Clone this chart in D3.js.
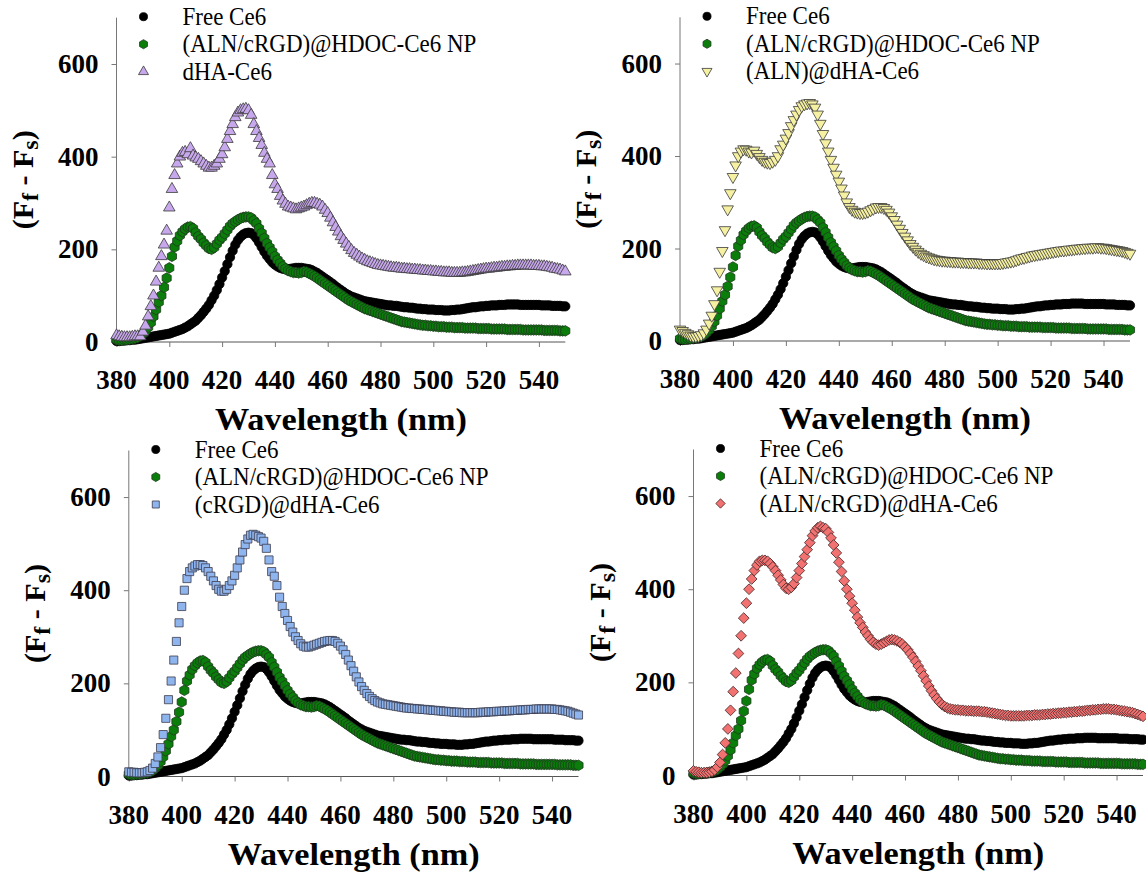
<!DOCTYPE html>
<html lang="en">
<head>
  <meta charset="UTF-8">
  <title>Fluorescence (Ff - Fs) vs wavelength</title>
  <script src="https://d3js.org/d3.v7.min.js"></script>
  <style>
    html, body { margin: 0; padding: 0; background: #fff; }
    svg { display: block; }
  </style>
</head>
<body>
  <div id="chart"></div>
  <script>
    const serif = "'Liberation Serif', 'Times New Roman', 'DejaVu Serif', serif";

    // wavelength grid, 1 nm steps
    const wavelength = d3.range(380, 551, 1);

    // Free Ce6 (black circles) - 380..550
    const freeCe6 = [
      2, 2, 3, 3, 4, 4, 5, 5, 6, 7,
      8, 9, 10, 11, 12, 13, 14, 15, 16, 17,
      18, 20, 22, 24, 26, 28, 31, 34, 38, 42,
      46, 52, 58, 65, 72, 80, 90, 100, 112, 125,
      139, 153, 168, 183, 197, 210, 220, 227, 232, 235,
      236, 235, 231, 224, 215, 205, 195, 186, 179, 172,
      167, 163, 160, 158, 157, 157, 158, 159, 160, 160,
      160, 159, 158, 157, 155, 152, 149, 145, 141, 137,
      133, 129, 125, 120, 116, 112, 108, 104, 101, 98,
      96, 94, 92, 90, 88, 87, 86, 85, 84, 83,
      82, 81, 80, 79, 79, 78, 78, 77, 76, 75,
      75, 74, 74, 73, 72, 72, 71, 71, 70, 70,
      70, 69, 69, 69, 68, 68, 68, 69, 69, 70,
      70, 71, 72, 73, 74, 75, 75, 76, 77, 77,
      78, 78, 79, 79, 79, 80, 80, 80, 81, 81,
      81, 81, 81, 80, 80, 80, 80, 80, 80, 80,
      80, 79, 79, 79, 79, 78, 78, 78, 78, 77,
      77
    ];

    // (ALN/cRGD)@HDOC-Ce6 NP (green hexagons)
    const npCe6 = [
      5, 4, 4, 5, 5, 6, 7, 8, 10, 13,
      18, 24, 32, 42, 55, 70, 86, 100, 118, 138,
      160, 185, 205, 218, 230, 238, 244, 248, 249, 245,
      236, 228, 222, 214, 208, 202, 200, 204, 212, 220,
      226, 234, 242, 250, 256, 260, 264, 267, 269, 270,
      270, 268, 262, 256, 245, 235, 224, 213, 204, 195,
      185, 177, 170, 163, 158, 154, 152, 150, 150, 149,
      150, 152, 151, 148, 145, 142, 138, 134, 130, 126,
      122, 118, 114, 110, 106, 102, 98, 94, 90, 87,
      84, 81, 78, 75, 72, 70, 68, 66, 64, 62,
      60, 58, 56, 54, 52, 50, 48, 46, 44, 43,
      42, 41, 40, 39, 38, 37, 36, 36, 35, 35,
      34, 34, 33, 33, 33, 32, 32, 32, 31, 31,
      31, 31, 30, 30, 30, 30, 30, 29, 29, 29,
      29, 29, 28, 28, 28, 28, 28, 28, 27, 27,
      27, 27, 27, 27, 26, 26, 26, 26, 26, 26,
      26, 26, 25, 25, 25, 25, 25, 25, 24, 24,
      24
    ];

    // dHA-Ce6 (lilac triangles)
    const dhaCe6 = [
      14, 12, 11, 10, 10, 10, 11, 12, 12, 12,
      22, 35, 55, 77, 100, 130, 160, 185, 210, 240,
      290, 330, 360, 385, 400, 408, 410, 405, 418, 402,
      398, 395, 390, 385, 380, 376, 376, 380, 385, 395,
      405, 420, 438, 455, 470, 485, 495, 500, 502, 503,
      500, 490, 470, 455, 440, 425, 408, 395, 385, 360,
      340, 330, 315, 305, 298, 292, 290, 288, 286, 288,
      290, 292, 295, 298, 300, 300, 298, 296, 292, 285,
      278, 268, 258, 248, 238, 228, 220, 212, 205, 198,
      192, 188, 184, 180, 177, 174, 172, 170, 168, 166,
      165, 164, 163, 162, 161, 160, 160, 159, 158, 158,
      157, 157, 156, 156, 155, 155, 154, 154, 153, 153,
      152, 152, 151, 151, 150, 150, 150, 149, 149, 149,
      149, 150, 150, 151, 152, 153, 154, 155, 156, 157,
      158, 158, 159, 160, 160, 161, 162, 162, 163, 163,
      164, 164, 165, 165, 165, 165, 165, 165, 164, 164,
      164, 163, 163, 162, 161, 160, 158, 157, 156, 154,
      152
    ];

    // (ALN)@dHA-Ce6 (yellow inverted triangles)
    const alnDhaCe6 = [
      25, 22, 18, 15, 12, 10, 10, 11, 13, 17,
      25, 38, 55, 80, 110, 150, 195, 240, 285, 320,
      355, 380, 400, 410, 415, 414, 410, 408, 412, 405,
      398, 392, 388, 386, 385, 388, 392, 400, 415, 425,
      438, 450, 465, 478, 490, 500, 508, 512, 514, 515,
      512, 505, 490, 470, 448, 428, 410, 392, 375, 360,
      345, 330, 315, 300, 290, 284, 280, 278, 277, 277,
      278, 280, 283, 286, 289, 290, 290, 288, 284, 278,
      270, 262, 252, 243, 234, 226, 218, 210, 204, 198,
      193, 189, 186, 183, 181, 179, 177, 176, 175, 174,
      174, 173, 173, 172, 172, 172, 171, 171, 171, 170,
      170, 170, 170, 169, 169, 169, 168, 168, 168, 168,
      168, 168, 169, 170, 171, 172, 173, 175, 177, 179,
      180, 182, 183, 185, 186, 187, 188, 189, 190, 191,
      192, 193, 194, 195, 196, 196, 197, 198, 198, 199,
      200, 200, 201, 201, 202, 202, 202, 203, 203, 202,
      202, 201, 200, 199, 198, 197, 196, 195, 193, 191,
      189
    ];

    // (cRGD)@dHA-Ce6 (blue squares)
    const rgdDhaCe6 = [
      10, 9, 9, 8, 8, 8, 9, 10, 13, 18,
      28, 42, 62, 90, 125, 165, 205, 250, 290, 330,
      365, 400, 425, 440, 448, 452, 455, 455, 453, 448,
      440, 430, 420, 410, 402, 398, 398, 402, 410, 420,
      432, 448, 465, 482, 498, 510, 518, 520, 518, 515,
      512, 505, 490, 465, 440, 430, 410, 385, 365, 350,
      335, 322, 310, 300, 292, 285, 280, 278, 278, 280,
      282, 284, 286, 288, 290, 291, 292, 292, 290, 286,
      280, 272, 262, 250, 238, 226, 214, 203, 193, 185,
      178, 172, 167, 163, 160, 158, 156, 155, 154, 153,
      152, 151, 150, 149, 148, 147, 147, 146, 146, 145,
      145, 144, 144, 143, 143, 142, 142, 141, 141, 140,
      140, 139, 139, 138, 138, 138, 137, 137, 137, 137,
      137, 137, 137, 138, 138, 138, 139, 139, 139, 140,
      140, 140, 141, 141, 141, 142, 142, 142, 143, 143,
      143, 144, 144, 144, 145, 145, 145, 145, 145, 145,
      145, 144, 144, 143, 142, 141, 140, 138, 136, 134,
      132
    ];

    // (ALN/cRGD)@dHA-Ce6 (red diamonds)
    const alnRgdDhaCe6 = [
      10, 8, 7, 6, 6, 6, 7, 9, 12, 18,
      28, 45, 70, 100, 140, 180, 220, 262, 300, 338,
      370, 400, 422, 440, 452, 460, 462, 462, 460, 455,
      448, 440, 430, 420, 410, 402, 400, 404, 412, 425,
      440, 455, 470, 485, 500, 515, 525, 532, 535, 532,
      530, 522, 510, 495, 478, 458, 438, 418, 400, 385,
      370, 355, 340, 328, 318, 308, 300, 292, 286, 282,
      280, 282, 285, 288, 291, 292, 291, 289, 286, 282,
      276, 270, 262, 254, 245, 235, 225, 214, 203, 192,
      182, 173, 165, 158, 152, 148, 145, 143, 142, 141,
      141, 140, 140, 139, 139, 139, 138, 138, 138, 137,
      137, 136, 135, 134, 133, 132, 131, 130, 129, 129,
      128, 128, 128, 128, 128, 128, 129, 129, 129, 130,
      130, 130, 131, 131, 132, 132, 133, 133, 134, 134,
      135, 135, 136, 136, 137, 137, 138, 138, 139, 140,
      140, 141, 141, 142, 142, 143, 143, 143, 142, 142,
      141, 140, 139, 138, 137, 136, 135, 133, 131, 129,
      127
    ];

    const xTicks = [380, 400, 420, 440, 460, 480, 500, 520, 540];
    const yTicks = [0, 200, 400, 600];
    const freeName = "Free Ce6";
    const npName = "(ALN/cRGD)@HDOC-Ce6 NP";

    const W = 1146, H = 872;
    const svg = d3.select("#chart").append("svg")
      .attr("width", W).attr("height", H)
      .attr("font-family", serif);
    svg.append("rect").attr("width", W).attr("height", H).attr("fill", "#fff");

    // hexagon marker
    const hexagon = {
      draw(ctx, size) {
        const r = Math.sqrt(size / (1.5 * Math.sqrt(3)));
        for (let i = 0; i < 6; i++) {
          const a = Math.PI / 6 + i * Math.PI / 3;
          if (i === 0) ctx.moveTo(r * Math.cos(a), r * Math.sin(a));
          else ctx.lineTo(r * Math.cos(a), r * Math.sin(a));
        }
        ctx.closePath();
      }
    };

    const styles = {
      circle: {type: d3.symbolCircle, size: 68, fill: "#000", stroke: "#000", rot: 0},
      hex: {type: hexagon, size: 72, fill: "#0b7d0b", stroke: "#1f3a1f", rot: 0},
      tri: {type: d3.symbolTriangle, size: 58, fill: "#c8a8ec", stroke: "#3a3a3a", rot: 0},
      triDown: {type: d3.symbolTriangle, size: 58, fill: "#f6f1a2", stroke: "#3a3a3a", rot: 180},
      square: {type: d3.symbolSquare, size: 66, fill: "#8fb5ef", stroke: "#3c3c4c", rot: 0},
      diamond: {type: d3.symbolSquare, size: 58, fill: "#f27272", stroke: "#4a2a2a", rot: 45}
    };

    const panels = [
      {x0: 116.5, x1: 565.3, y0: 342, yTop: 17.7, name: "dHA-Ce6", values: dhaCe6, style: "tri"},
      {x0: 680, x1: 1130, y0: 341, yTop: 17.3, name: "(ALN)@dHA-Ce6", values: alnDhaCe6, style: "triDown"},
      {x0: 128.8, x1: 578.5, y0: 776.5, yTop: 450.5, name: "(cRGD)@dHA-Ce6", values: rgdDhaCe6, style: "square"},
      {x0: 693.5, x1: 1143, y0: 775.5, yTop: 449.5, name: "(ALN/cRGD)@dHA-Ce6", values: alnRgdDhaCe6, style: "diamond"}
    ];

    panels.forEach(p => {
      const x = d3.scaleLinear().domain([380, 550]).range([p.x0, p.x1]);
      const y = d3.scaleLinear().domain([0, 700]).range([p.y0, p.yTop]);
      const g = svg.append("g");

      // axes
      const xAxis = g.append("g").attr("transform", `translate(0,${p.y0})`)
        .call(d3.axisBottom(x).tickValues(xTicks).tickSize(5).tickFormat(""));
      xAxis.select(".domain").attr("stroke", "#555").attr("d", `M${p.x0},0H${p.x1}`);
      xAxis.selectAll(".tick line").attr("stroke", "#777");

      const yAxis = g.append("g").attr("transform", `translate(${p.x0},0)`)
        .call(d3.axisLeft(y).tickValues(yTicks).tickSize(5).tickFormat(""));
      yAxis.select(".domain").attr("stroke", "#777").attr("d", `M0,${p.y0}V${p.yTop}`);
      yAxis.selectAll(".tick line").attr("stroke", "#777");

      // tick labels
      g.selectAll(".xl").data(xTicks).enter().append("text")
        .attr("font-family", serif).attr("font-weight", "bold").attr("font-size", 27)
        .attr("x", d => x(d)).attr("y", p.y0 + 47)
        .attr("text-anchor", "middle").text(d => d);
      g.selectAll(".yl").data(yTicks).enter().append("text")
        .attr("font-family", serif).attr("font-weight", "bold").attr("font-size", 27)
        .attr("x", p.x0 - 18).attr("y", d => y(d) + 9)
        .attr("text-anchor", "end").text(d => d);

      // axis titles
      g.append("text")
        .attr("font-family", serif).attr("font-weight", "bold").attr("font-size", 31)
        .attr("x", (p.x0 + p.x1) / 2).attr("y", p.y0 + 88)
        .attr("text-anchor", "middle")
        .attr("textLength", 252).attr("lengthAdjust", "spacingAndGlyphs")
        .text("Wavelength (nm)");
      const yt = g.append("text")
        .attr("font-family", serif).attr("font-weight", "bold").attr("font-size", 30)
        .attr("transform", `translate(${p.x0 - 84},${(p.y0 + p.yTop) / 2}) rotate(-90)`)
        .attr("text-anchor", "middle");
      yt.append("tspan").text("(F");
      yt.append("tspan").attr("font-size", "24px").attr("dy", 5).text("f");
      yt.append("tspan").attr("dy", -5).text(" - F");
      yt.append("tspan").attr("font-size", "24px").attr("dy", 5).text("s");
      yt.append("tspan").attr("dy", -5).text(")");

      // data
      const series = [
        {values: freeCe6, style: "circle"},
        {values: npCe6, style: "hex"},
        {values: p.values, style: p.style}
      ];
      series.forEach(s => {
        const st = styles[s.style];
        const sym = d3.symbol().type(st.type).size(st.size);
        g.append("g").selectAll("path")
          .data(wavelength.map((w, i) => [w, s.values[i]]))
          .enter().append("path")
          .attr("d", sym)
          .attr("transform", d => `translate(${x(d[0])},${y(d[1])}) rotate(${st.rot})`)
          .attr("fill", st.fill)
          .attr("stroke", st.stroke)
          .attr("stroke-width", 0.8);
      });

      // legend
      const legend = [
        {name: freeName, style: "circle"},
        {name: npName, style: "hex"},
        {name: p.name, style: p.style}
      ];
      legend.forEach((l, i) => {
        const st = styles[l.style];
        const ly = p.yTop - 1 + i * 27.5;
        g.append("path")
          .attr("d", d3.symbol().type(st.type).size(st.size * 0.75))
          .attr("transform", `translate(${p.x0 + 27},${ly}) rotate(${st.rot})`)
          .attr("fill", st.fill).attr("stroke", st.stroke).attr("stroke-width", 0.8);
        g.append("text")
          .attr("font-family", serif).attr("font-size", 23)
          .attr("transform", `translate(${p.x0 + 66},${ly + 8}) scale(1,1.12)`)
          .text(l.name);
      });
    });
  </script>
</body>
</html>
